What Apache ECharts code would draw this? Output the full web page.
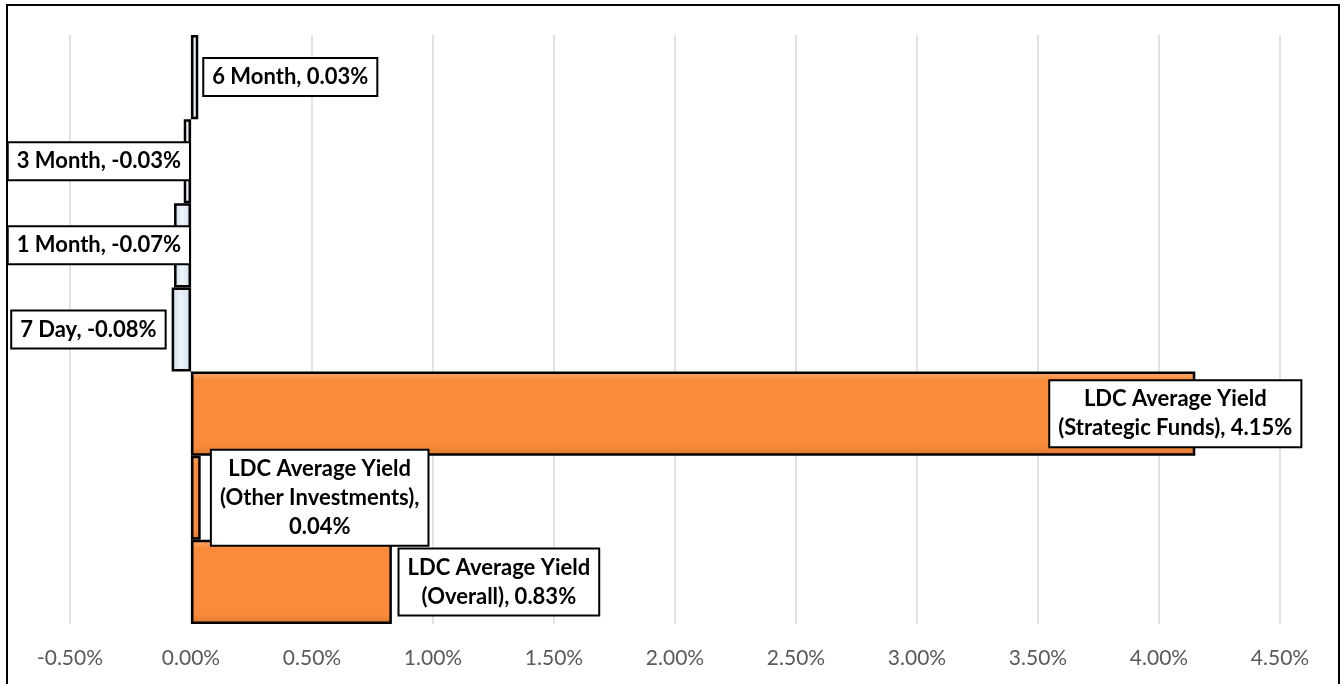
<!DOCTYPE html>
<html>
<head>
<meta charset="utf-8">
<script src="https://cdn.jsdelivr.net/npm/echarts@6/dist/echarts.min.js"></script>
<style>
html,body{margin:0;padding:0;background:#fff;}
#chart{width:1342px;height:684px;}
</style>
</head>
<body>
<div id="chart"></div>
<script>
// ---- data ----
const categories = [
  '6 Month',
  '3 Month',
  '1 Month',
  '7 Day',
  'LDC Average Yield (Strategic Funds)',
  'LDC Average Yield (Other Investments)',
  'LDC Average Yield (Overall)'
];
const values = [0.03, -0.03, -0.07, -0.08, 4.15, 0.04, 0.83];
const groups = ['rate', 'rate', 'rate', 'rate', 'ldc', 'ldc', 'ldc'];
const xMin = -0.5, xMax = 4.5, xStep = 0.5;

// ---- styles ----
const blueFill = new echarts.graphic.LinearGradient(0, 0, 1, 0, [
  {offset: 0, color: '#c9d9ea'},
  {offset: 0.45, color: '#eef4fa'},
  {offset: 1, color: '#d3e1ef'}
]);
const orangeFill = new echarts.graphic.LinearGradient(0, 0, 0, 1, [
  {offset: 0, color: '#fcae74'},
  {offset: 0.1, color: '#f98b3b'},
  {offset: 0.88, color: '#f98b3b'},
  {offset: 1, color: '#dc7731'}
]);

function labelText(i) {
  const name = categories[i];
  const v = values[i].toFixed(2) + '%';
  if (name.indexOf(' (') > 0) {
    const parts = name.split(' (');
    const tail = '(' + parts[1];
    return i === 5 ? parts[0] + '\n' + tail + ',\n' + v : parts[0] + '\n' + tail + ', ' + v;
  }
  return name + ', ' + v;
}

// label placement (dx = shift of label centre from the bar end, for multi-line boxes)
const labelLayouts = [
  {position: 'right', distance: 6},
  {position: 'insideRight', distance: 2},
  {position: 'insideRight', distance: 2},
  {position: 'left', distance: 7},
  {position: 'insideRight', distance: 0, align: 'center'},
  {position: 'right', distance: 0, align: 'center'},
  {position: 'right', distance: 0, align: 'center'}
];
const labelShift = [0, 0, 0, 0, -20, 119, 107];

const baseLabel = {
  show: true,
  color: '#000',
  fontFamily: 'Lato',
  fontWeight: 'bold',
  fontSize: 22,
  lineHeight: 29,
  backgroundColor: '#fff',
  borderColor: '#000',
  borderWidth: 2,
  padding: [4, 8, 3, 8]
};

const data = values.map((v, i) => ({
  value: v,
  itemStyle: {
    color: groups[i] === 'ldc' ? orangeFill : blueFill,
    borderColor: '#000',
    borderWidth: 2.5
  },
  label: Object.assign({}, baseLabel, labelLayouts[i], {
    formatter: () => labelText(i)
  })
}));

const chart = echarts.init(document.getElementById('chart'));
chart.setOption({
  animation: false,
  backgroundColor: '#fff',
  grid: {left: 70, right: 62, top: 35, bottom: 60, containLabel: false},
  xAxis: {
    type: 'value',
    min: xMin, max: xMax, interval: xStep,
    axisLine: {show: false},
    axisTick: {show: false},
    splitLine: {show: true, lineStyle: {color: '#d9d9d9', width: 1.5}},
    axisLabel: {
      color: '#595959',
      fontFamily: 'Lato',
      fontSize: 21,
      margin: 24,
      formatter: v => v.toFixed(2) + '%'
    }
  },
  yAxis: {
    type: 'category',
    data: categories,
    inverse: true,
    axisLine: {show: false},
    axisTick: {show: false},
    axisLabel: {show: false},
    splitLine: {show: false}
  },
  series: [{
    type: 'bar',
    data: data,
    barCategoryGap: '0%',
    labelLayout: function (params) {
      return {dx: labelShift[params.dataIndex], dy: 0};
    }
  }],
  graphic: [{
    type: 'rect',
    shape: {x: 7, y: 5, width: 1332, height: 700},
    style: {fill: 'none', stroke: '#000', lineWidth: 2},
    silent: true,
    z: 100
  }]
});
</script>
</body>
</html>
